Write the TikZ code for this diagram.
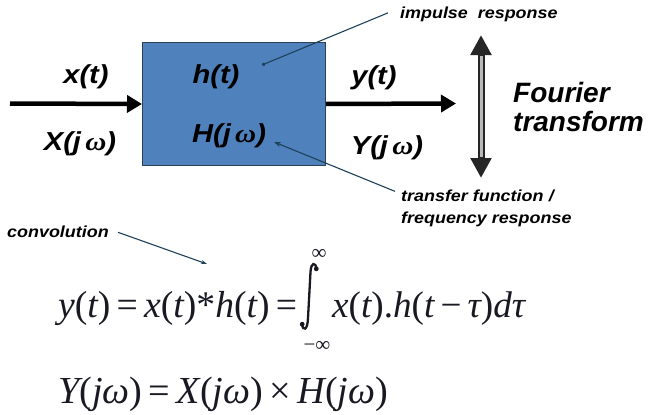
\documentclass[tikz,border=0pt]{standalone}
\usepackage{graphicx}
\usepackage{fontspec}
\setmainfont{Liberation Sans}
\newfontfamily\widesans[FakeStretch=1.12]{Liberation Sans}
\newfontfamily\wideserif[FakeStretch=1.12]{Liberation Serif}
\newfontfamily\eqfont{Liberation Serif}
\usetikzlibrary{arrows.meta}
\definecolor{boxblue}{RGB}{79,129,189}
\definecolor{boxedge}{RGB}{45,65,85}
\definecolor{leader}{RGB}{30,65,90}
\definecolor{ink}{RGB}{25,25,35}
\newcommand{\om}{{\wideserif\bfseries\itshape ω}}
\newcommand{\I}[1]{{\itshape #1}}
\newcommand{\eqsize}{\eqfont\fontsize{38}{40}\selectfont}
\begin{document}
\begin{tikzpicture}[x=1pt,y=-1pt,
  big/.style={font=\widesans\fontsize{26}{30}\selectfont\bfseries\itshape, inner sep=0pt},
  huge/.style={font=\fontsize{28}{32}\selectfont\bfseries\itshape, inner sep=0pt},
  small/.style={font=\widesans\fontsize{16}{18}\selectfont\bfseries\itshape, inner sep=0pt},
  sig/.style={line width=4.5pt, -{Triangle[width=17pt,length=15pt]}},
  lead/.style={draw=leader, line width=1.1pt},
  eqn/.style={inner sep=0pt, anchor=base west, text=ink},
  lim/.style={inner sep=0pt, text=ink, font=\eqfont\fontsize{21}{21}\selectfont}]
\useasboundingbox (0,0) rectangle (648,415);
% system box
\node[draw=boxedge, line width=1pt, fill=boxblue, minimum width=183pt, minimum height=123pt, inner sep=0pt, anchor=north west] (sys) at (142,42) {};
\node[big] (ht) at (216,77) {h(t)};
\node[big] (Hj) at (229,136) {H(j\,\om)};
% input / output
\coordinate (in) at (10,103.5);
\coordinate (out) at (456,103.5);
\draw[sig] (in) -- (sys.west);
\draw[sig] (sys.east) -- (out);
\node[big] (xt) at (86,77) {x(t)};
\node[big] (Xj) at (80,144) {X(j\,\om)};
\node[big] (yt) at (374,78) {y(t)};
\node[big] (Yj) at (387,148) {Y(j\,\om)};
% Fourier transform double arrow
\coordinate (ft) at (481,35);
\coordinate (fb) at (481,178);
\draw[line width=7pt, black!85, {Triangle[width=20pt,length=20pt]}-{Triangle[width=20pt,length=20pt]}] (ft) -- (fb);
\draw[line width=3pt, gray!55, shorten <=21pt, shorten >=21pt] (ft) -- (fb);
\node[huge, anchor=base west] (four) at (513,102) {Fourier};
\node[huge, anchor=base west] (trans) at (513,131) {transform};
% annotations
\node[small, anchor=base west] (imp) at (400,19) {impulse\ \ response};
\coordinate (impE) at (262,65);
\draw[lead, -{Circle[length=3.5pt]}] ([xshift=-12pt,yshift=2pt]imp.west) -- (impE);
\node[small, anchor=base west] (tf) at (401,201) {transfer function\,\,/};
\node[small, anchor=base west] (fr) at (401,223) {frequency response};
\coordinate (tfE) at (274,142);
\draw[lead, -{Stealth[length=7pt,width=5pt]}] ([xshift=-6pt,yshift=4pt]tf.west) -- (tfE);
\node[small, anchor=base west] (conv) at (7,237) {convolution};
\coordinate (convE) at (207,264);
\draw[lead, -{Stealth[length=6pt,width=4pt]}] ([xshift=9pt,yshift=-1pt]conv.east) -- (convE);
% equations
\node[eqn] (eq1a) at (58,317) {\resizebox{239pt}{!}{\eqsize \I{y}(\I{t})\,=\,\I{x}(\I{t})*\I{h}(\I{t})\,=}};
% integral sign
\draw[ink, line width=2.3pt, line cap=round] (316.5,268.5) .. controls (315.5,262) and (311,262) .. (310.5,272) -- (308,318) .. controls (307.5,331) and (303,331) .. (302,324.5);
\fill[ink] (316.3,268.8) circle (2.4pt);
\fill[ink] (302.2,324.2) circle (2.4pt);
\node[lim] (sup) at (319,254) {∞};
\node[lim] (sub) at (317,346) {−∞};
\node[eqn] (eq1b) at (332,317) {\resizebox{193pt}{!}{\eqsize \I{x}(\I{t}).\I{h}(\I{t}\,−\,\I{τ})\I{d}\I{τ}}};
\node[eqn] (eq2) at (58,403) {\resizebox{330pt}{!}{\eqsize \I{Y}(\I{j}\I{ω})\,=\,\I{X}(\I{j}\I{ω})\,×\,\I{H}(\I{j}\I{ω})}};
\end{tikzpicture}
\end{document}
